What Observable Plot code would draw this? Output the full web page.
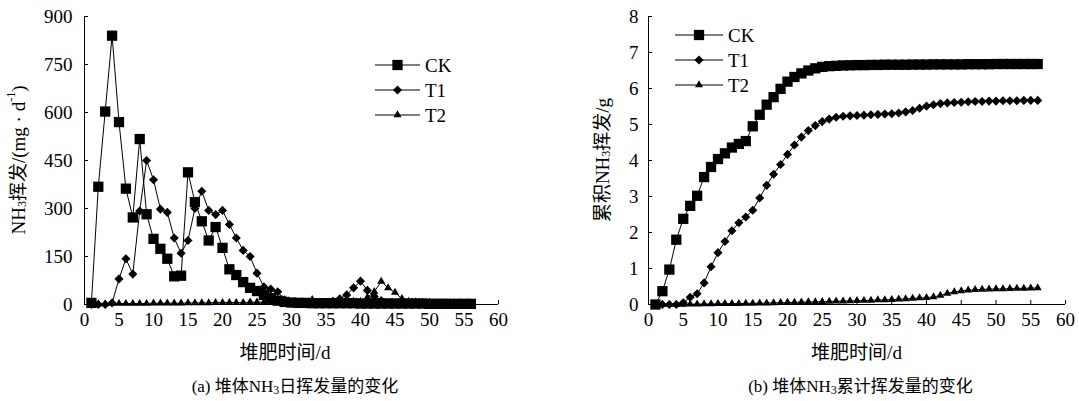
<!DOCTYPE html>
<html><head><meta charset="utf-8">
<script src="https://cdn.jsdelivr.net/npm/d3@7"></script>
<script src="https://cdn.jsdelivr.net/npm/@observablehq/plot@0.6"></script>
<style>
body{margin:0;background:#fff;}
#wrap{display:flex;width:1079px;height:401px;overflow:hidden;}
#wrap svg{display:block;}
</style></head><body><div id="wrap"></div>
<script>
// ---- data ----
const days = [1,2,3,4,5,6,7,8,9,10,11,12,13,14,15,16,17,18,19,20,21,22,23,24,25,26,27,28,29,30,31,32,33,34,35,36,37,38,39,40,41,42,43,44,45,46,47,48,49,50,51,52,53,54,55,56];
const seriesNames = ["CK","T1","T2"];
const xTicks = [0,5,10,15,20,25,30,35,40,45,50,55,60];
const yTicksDaily = [0,150,300,450,600,750,900];
const yTicksCum = [0,1,2,3,4,5,6,7,8];

// (a) daily NH3 volatilization, mg/d
const ckDaily = [5,368,603,840,570,362,272,517,282,205,174,143,88,90,413,320,260,200,242,177,110,92,70,52,42,30,20,12,8,6,
  5,5,4,4,4,4,4,4,4,3,3,3,3,3,3,3,3,3,3,2,2,2,2,2,2,2];
const t1Daily = [0,0,0,5,80,143,95,292,450,390,298,288,208,160,200,300,354,294,281,294,250,208,169,150,98,55,48,40,15,6,
  5,5,5,5,6,10,18,30,52,73,44,25,12,6,5,4,4,3,3,3,3,3,2,2,2,2];
const t2Daily = [2,2,2,3,3,3,3,3,3,4,4,4,4,4,5,5,5,5,6,6,6,6,6,7,7,7,7,7,7,6,
  6,6,15,6,6,8,12,15,10,10,22,40,72,52,38,18,10,8,7,7,6,6,6,5,5,5];

// (b) cumulative NH3 volatilization, g
const ckCum = [0,0.37,0.97,1.80,2.38,2.74,3.02,3.54,3.82,4.04,4.20,4.36,4.46,4.54,4.95,5.27,5.55,5.76,5.99,6.19,6.32,6.42,6.50,6.56,6.60,6.62,6.63,6.64,6.645,6.65,
  6.65,6.655,6.655,6.66,6.66,6.66,6.66,6.665,6.665,6.665,6.67,6.67,6.67,6.67,6.67,6.675,6.675,6.675,6.675,6.68,6.68,6.68,6.68,6.68,6.68,6.68];
const t1Cum = [0,0,0,0,0.05,0.20,0.30,0.60,1.05,1.44,1.75,2.05,2.27,2.43,2.62,2.96,3.31,3.62,3.89,4.17,4.43,4.65,4.83,4.97,5.08,5.15,5.20,5.23,5.24,5.25,
  5.26,5.27,5.28,5.29,5.30,5.32,5.35,5.39,5.45,5.51,5.55,5.58,5.60,5.61,5.62,5.63,5.64,5.64,5.65,5.65,5.66,5.66,5.66,5.67,5.67,5.67];
const t2Cum = [0,0,0,0.005,0.005,0.01,0.01,0.015,0.015,0.02,0.02,0.025,0.025,0.03,0.03,0.035,0.04,0.045,0.05,0.055,0.06,0.065,0.07,0.075,0.08,0.085,0.09,0.095,0.10,0.105,
  0.11,0.115,0.125,0.13,0.135,0.145,0.155,0.17,0.18,0.19,0.21,0.25,0.31,0.35,0.38,0.40,0.41,0.42,0.425,0.43,0.435,0.44,0.445,0.45,0.455,0.46];

// ---- styling ----
const FONT = '"Liberation Serif","Times New Roman","Noto Sans CJK SC",serif';
const symbols = [
  {symbol: "square", r: 5.8, d3s: d3.symbolSquare},
  {symbol: "diamond2", r: 4.1, d3s: d3.symbolDiamond2},
  {symbol: "triangle", r: 3.0, d3s: d3.symbolTriangle}
];

function richText(parent, parts, attrs) {
  const t = parent.append("text");
  Object.entries(attrs).forEach(([k, v]) => t.attr(k, v));
  let shift = 0;
  parts.forEach(p => {
    const s = t.append("tspan").text(p.t);
    let target = 0;
    if (p.sub) { s.attr("font-size", "12px"); target = 4; }
    if (p.sup) { s.attr("font-size", "12px"); target = -7; }
    if (target !== shift) s.attr("dy", target - shift);
    shift = target;
  });
  return t;
}

function makePanel({width, marginLeft, marginRight, yDomain, yTicks, yPad, cols, legend, ylabel, ylabelX, xlabelDx, caption}) {
  const marginTop = 16, marginBottom = 97, height = 401;
  const innerH = height - marginTop - marginBottom;
  const innerW = width - marginLeft - marginRight;
  const data = [];
  seriesNames.forEach((s, i) => days.forEach((d, j) => data.push({series: s, day: d, value: cols[i][j]})));
  const svgEl = Plot.plot({
    width, height, marginTop, marginBottom, marginLeft, marginRight,
    x: {domain: [0, 60]},
    y: {domain: yDomain},
    style: {fontFamily: FONT, fontSize: "19px", color: "black", background: "white", overflow: "visible"},
    marks: [
      Plot.ruleX([0], {stroke: "black", strokeWidth: 1}),
      Plot.ruleY([0], {stroke: "black", strokeWidth: 1}),
      Plot.tickX(xTicks, {x: d => d, insetTop: innerH - 4, stroke: "black"}),
      Plot.tickY(yTicks, {y: d => d, insetRight: innerW - 4, stroke: "black"}),
      Plot.axisX(xTicks, {tickSize: 0, tickPadding: 8, label: null, fill: "black"}),
      Plot.axisY(yTicks, {tickSize: 0, tickPadding: yPad, label: null, fill: "black"}),
      Plot.line(data, {x: "day", y: "value", z: "series", stroke: "black", strokeWidth: 1}),
      ...seriesNames.map((s, i) => Plot.dot(data.filter(d => d.series === s), {
        x: "day", y: "value", symbol: symbols[i].symbol, r: symbols[i].r, fill: "black", stroke: "none"
      }))
    ]
  });
  const svg = d3.select(svgEl);
  const g = svg.append("g").attr("font-family", FONT).attr("fill", "black").attr("text-anchor", "start");
  // y label
  richText(g, ylabel, {transform: `translate(${ylabelX},${marginTop + innerH / 2}) rotate(-90)`,
    "text-anchor": "middle", "dominant-baseline": "central", "font-size": "19px"});
  // x label
  richText(g, [{t: "堆肥时间/d"}], {x: marginLeft + innerW / 2 + xlabelDx, y: 352, "text-anchor": "middle",
    "dominant-baseline": "central", "font-size": "19px"});
  // caption
  richText(g, caption, {x: marginLeft + innerW / 2 + 4, y: 386, "text-anchor": "middle",
    "dominant-baseline": "central", "font-size": "17px"});
  // legend
  seriesNames.forEach((s, i) => {
    const y = legend.y0 + i * legend.dy;
    g.append("line").attr("x1", legend.x0).attr("x2", legend.x1).attr("y1", y).attr("y2", y)
      .attr("stroke", "black").attr("stroke-width", 1);
    const size = Math.PI * symbols[i].r * symbols[i].r;
    g.append("path").attr("d", d3.symbol(symbols[i].d3s, size)())
      .attr("transform", `translate(${(legend.x0 + legend.x1) / 2},${y})`).attr("fill", "black");
    g.append("text").attr("x", legend.x1 + 5).attr("y", y).attr("dominant-baseline", "central")
      .attr("text-anchor", "start").attr("font-size", "19px").text(s);
  });
  return svgEl;
}

const wrap = document.getElementById("wrap");
wrap.appendChild(makePanel({
  width: 540, marginLeft: 84, marginRight: 42,
  yDomain: [0, 900], yTicks: yTicksDaily, yPad: 12,
  cols: [ckDaily, t1Daily, t2Daily],
  legend: {x0: 375, x1: 420, y0: 65, dy: 25},
  ylabel: [{t: "NH"}, {t: "3", sub: true}, {t: "挥发/(mg · d"}, {t: "-1", sup: true}, {t: ")"}],
  ylabelX: 18, xlabelDx: -6,
  caption: [{t: "(a) 堆体NH"}, {t: "3", sub: true}, {t: "日挥发量的变化"}]
}));
wrap.appendChild(makePanel({
  width: 539, marginLeft: 108, marginRight: 14,
  yDomain: [0, 8], yTicks: yTicksCum, yPad: 10,
  cols: [ckCum, t1Cum, t2Cum],
  legend: {x0: 135, x1: 183, y0: 35, dy: 25},
  ylabel: [{t: "累积NH"}, {t: "3", sub: true}, {t: "挥发/g"}],
  ylabelX: 62, xlabelDx: 0,
  caption: [{t: "(b) 堆体NH"}, {t: "3", sub: true}, {t: "累计挥发量的变化"}]
}));
</script></body></html>
